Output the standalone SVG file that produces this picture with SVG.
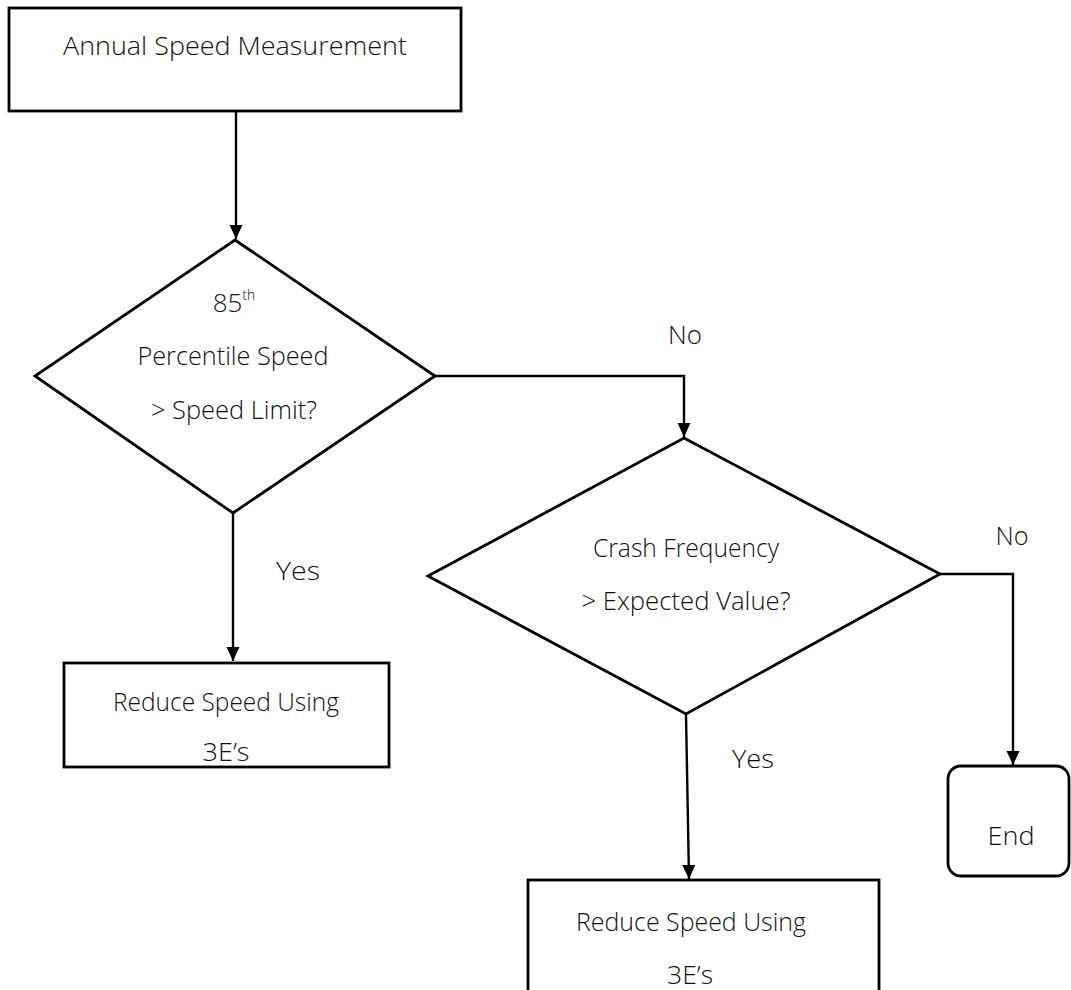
<svg xmlns="http://www.w3.org/2000/svg" width="1071" height="990" viewBox="0 0 1071 990">
<style>
.box{fill:#fff;stroke:#000;stroke-width:2.8}
.edge{fill:none;stroke:#000;stroke-width:2.4}
text{font-family:"Open Sans","Noto Sans","Liberation Sans",sans-serif;font-size:26px;font-weight:300;fill:#111;text-anchor:middle}
.sup{font-size:14px}
</style>
<defs>
<marker id="arr" markerUnits="userSpaceOnUse" markerWidth="14" markerHeight="14" refX="14" refY="6.5" orient="auto">
<path d="M0,0 L14,6.5 L0,13 z" fill="#000"/>
</marker>
</defs>
<rect width="1071" height="990" fill="#fff"/>
<g id="connectors">
<path class="edge" d="M236,111 V239" marker-end="url(#arr)"/>
<path class="edge" d="M233,513 V661" marker-end="url(#arr)"/>
<path class="edge" d="M435,376 H684 V437" marker-end="url(#arr)"/>
<path class="edge" d="M940,574 H1013 V765" marker-end="url(#arr)"/>
<path class="edge" d="M686,714 L689,879" marker-end="url(#arr)"/>
<text x="685" y="344" textLength="34" lengthAdjust="spacingAndGlyphs">No</text>
<text x="1012" y="545" textLength="33" lengthAdjust="spacingAndGlyphs">No</text>
<text x="298" y="580" textLength="44" lengthAdjust="spacingAndGlyphs">Yes</text>
<text x="753" y="768" textLength="42" lengthAdjust="spacingAndGlyphs">Yes</text>
</g>
<g id="start">
<rect class="box" x="9" y="8" width="452" height="103"/>
<text x="235" y="55" textLength="344" lengthAdjust="spacingAndGlyphs">Annual Speed Measurement</text>
</g>
<g id="decision1">
<polygon class="box" points="235,240 435,376 233,513 35,376"/>
<text x="234" y="312">85<tspan class="sup" dy="-12">th</tspan></text>
<text x="233" y="365" textLength="191" lengthAdjust="spacingAndGlyphs">Percentile Speed</text>
<text x="234" y="419" textLength="166" lengthAdjust="spacingAndGlyphs">&gt; Speed Limit?</text>
</g>
<g id="action1">
<rect class="box" x="64" y="663" width="325" height="104"/>
<text x="226" y="711" textLength="226" lengthAdjust="spacingAndGlyphs">Reduce Speed Using</text>
<text x="226" y="761" textLength="47" lengthAdjust="spacingAndGlyphs">3E’s</text>
</g>
<g id="decision2">
<polygon class="box" points="684,438 940,574 686,714 428,576"/>
<text x="686" y="557" textLength="186" lengthAdjust="spacingAndGlyphs">Crash Frequency</text>
<text x="686" y="610" textLength="209" lengthAdjust="spacingAndGlyphs">&gt; Expected Value?</text>
</g>
<g id="end">
<rect class="box" x="948" y="766" width="121" height="110" rx="13" ry="13"/>
<text x="1011" y="845" textLength="47" lengthAdjust="spacingAndGlyphs">End</text>
</g>
<g id="action2">
<rect class="box" x="528" y="880" width="351" height="130"/>
<text x="691" y="931" textLength="230" lengthAdjust="spacingAndGlyphs">Reduce Speed Using</text>
<text x="690" y="984" textLength="46" lengthAdjust="spacingAndGlyphs">3E’s</text>
</g>
</svg>
